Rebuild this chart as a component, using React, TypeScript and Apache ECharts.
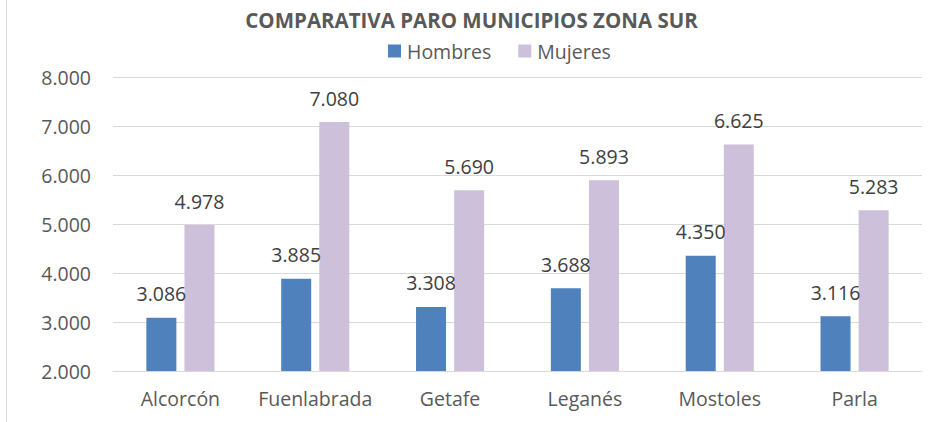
import React, { useEffect, useRef } from "react";
import * as echarts from "echarts";

const categories = ["Alcorcón", "Fuenlabrada", "Getafe", "Leganés", "Mostoles", "Parla"];
const hombres = [3086, 3885, 3308, 3688, 4350, 3116];
const mujeres = [4978, 7080, 5690, 5893, 6625, 5283];
const seriesNames = ["Hombres", "Mujeres"];

const fmt = (v: number) => {
  const s = Math.round(v).toString();
  return s.replace(/\B(?=(\d{3})+(?!\d))/g, ".");
};

const FONT = "'Open Sans', 'Noto Sans', sans-serif";

export default function App() {
  const ref = useRef<HTMLDivElement>(null);
  useEffect(() => {
    if (!ref.current) return;
    const chart = echarts.init(ref.current, undefined, { renderer: "svg" });
    const label = {
      show: true,
      position: "top",
      distance: 14,
      formatter: (p: any) => fmt(p.value),
      fontFamily: FONT,
      fontSize: 19.5,
      color: "#404040",
    };
    chart.setOption({
      animation: false,
      backgroundColor: "#ffffff",
      title: {
        text: "COMPARATIVA PARO MUNICIPIOS ZONA SUR",
        left: "center",
        top: 4,
        textStyle: { fontFamily: FONT, fontSize: 20.5, fontWeight: "bold", color: "#595959" },
      },
      legend: {
        top: 36,
        left: 383,
        itemWidth: 13,
        itemHeight: 13,
        itemGap: 27,
        icon: "rect",
        textStyle: { fontFamily: FONT, fontSize: 19.5, color: "#595959", padding: [0, 0, 0, 1] },
        data: seriesNames,
      },
      grid: { left: 113, right: 21, top: 77, bottom: 51, containLabel: false },
      xAxis: {
        type: "category",
        data: categories,
        axisLine: { lineStyle: { color: "#d9d9d9" } },
        axisTick: { show: false },
        axisLabel: { interval: 0, fontFamily: FONT, fontSize: 19.5, color: "#595959", margin: 17 },
      },
      yAxis: {
        type: "value",
        min: 2000,
        max: 8000,
        interval: 1000,
        axisLine: { show: false },
        axisTick: { show: false },
        splitLine: { lineStyle: { color: "#d9d9d9" } },
        axisLabel: { fontFamily: FONT, fontSize: 19.5, color: "#595959", margin: 22, formatter: fmt },
      },
      series: [
        {
          name: seriesNames[0],
          type: "bar",
          data: hombres,
          barWidth: 30,
          barGap: "27%",
          itemStyle: { color: "#4F81BD" },
          label,
        },
        {
          name: seriesNames[1],
          type: "bar",
          data: mujeres,
          barWidth: 30,
          itemStyle: { color: "#CCC0DA" },
          label,
        },
      ],
      graphic: [
        {
          type: "line",
          shape: { x1: 6.5, y1: 0, x2: 6.5, y2: 422 },
          style: { stroke: "#d9d9d9", lineWidth: 1 },
        },
      ],
    });
    return () => chart.dispose();
  }, []);
  return <div ref={ref} style={{ width: 943, height: 422, position: "absolute", left: 0, top: 0 }} />;
}
